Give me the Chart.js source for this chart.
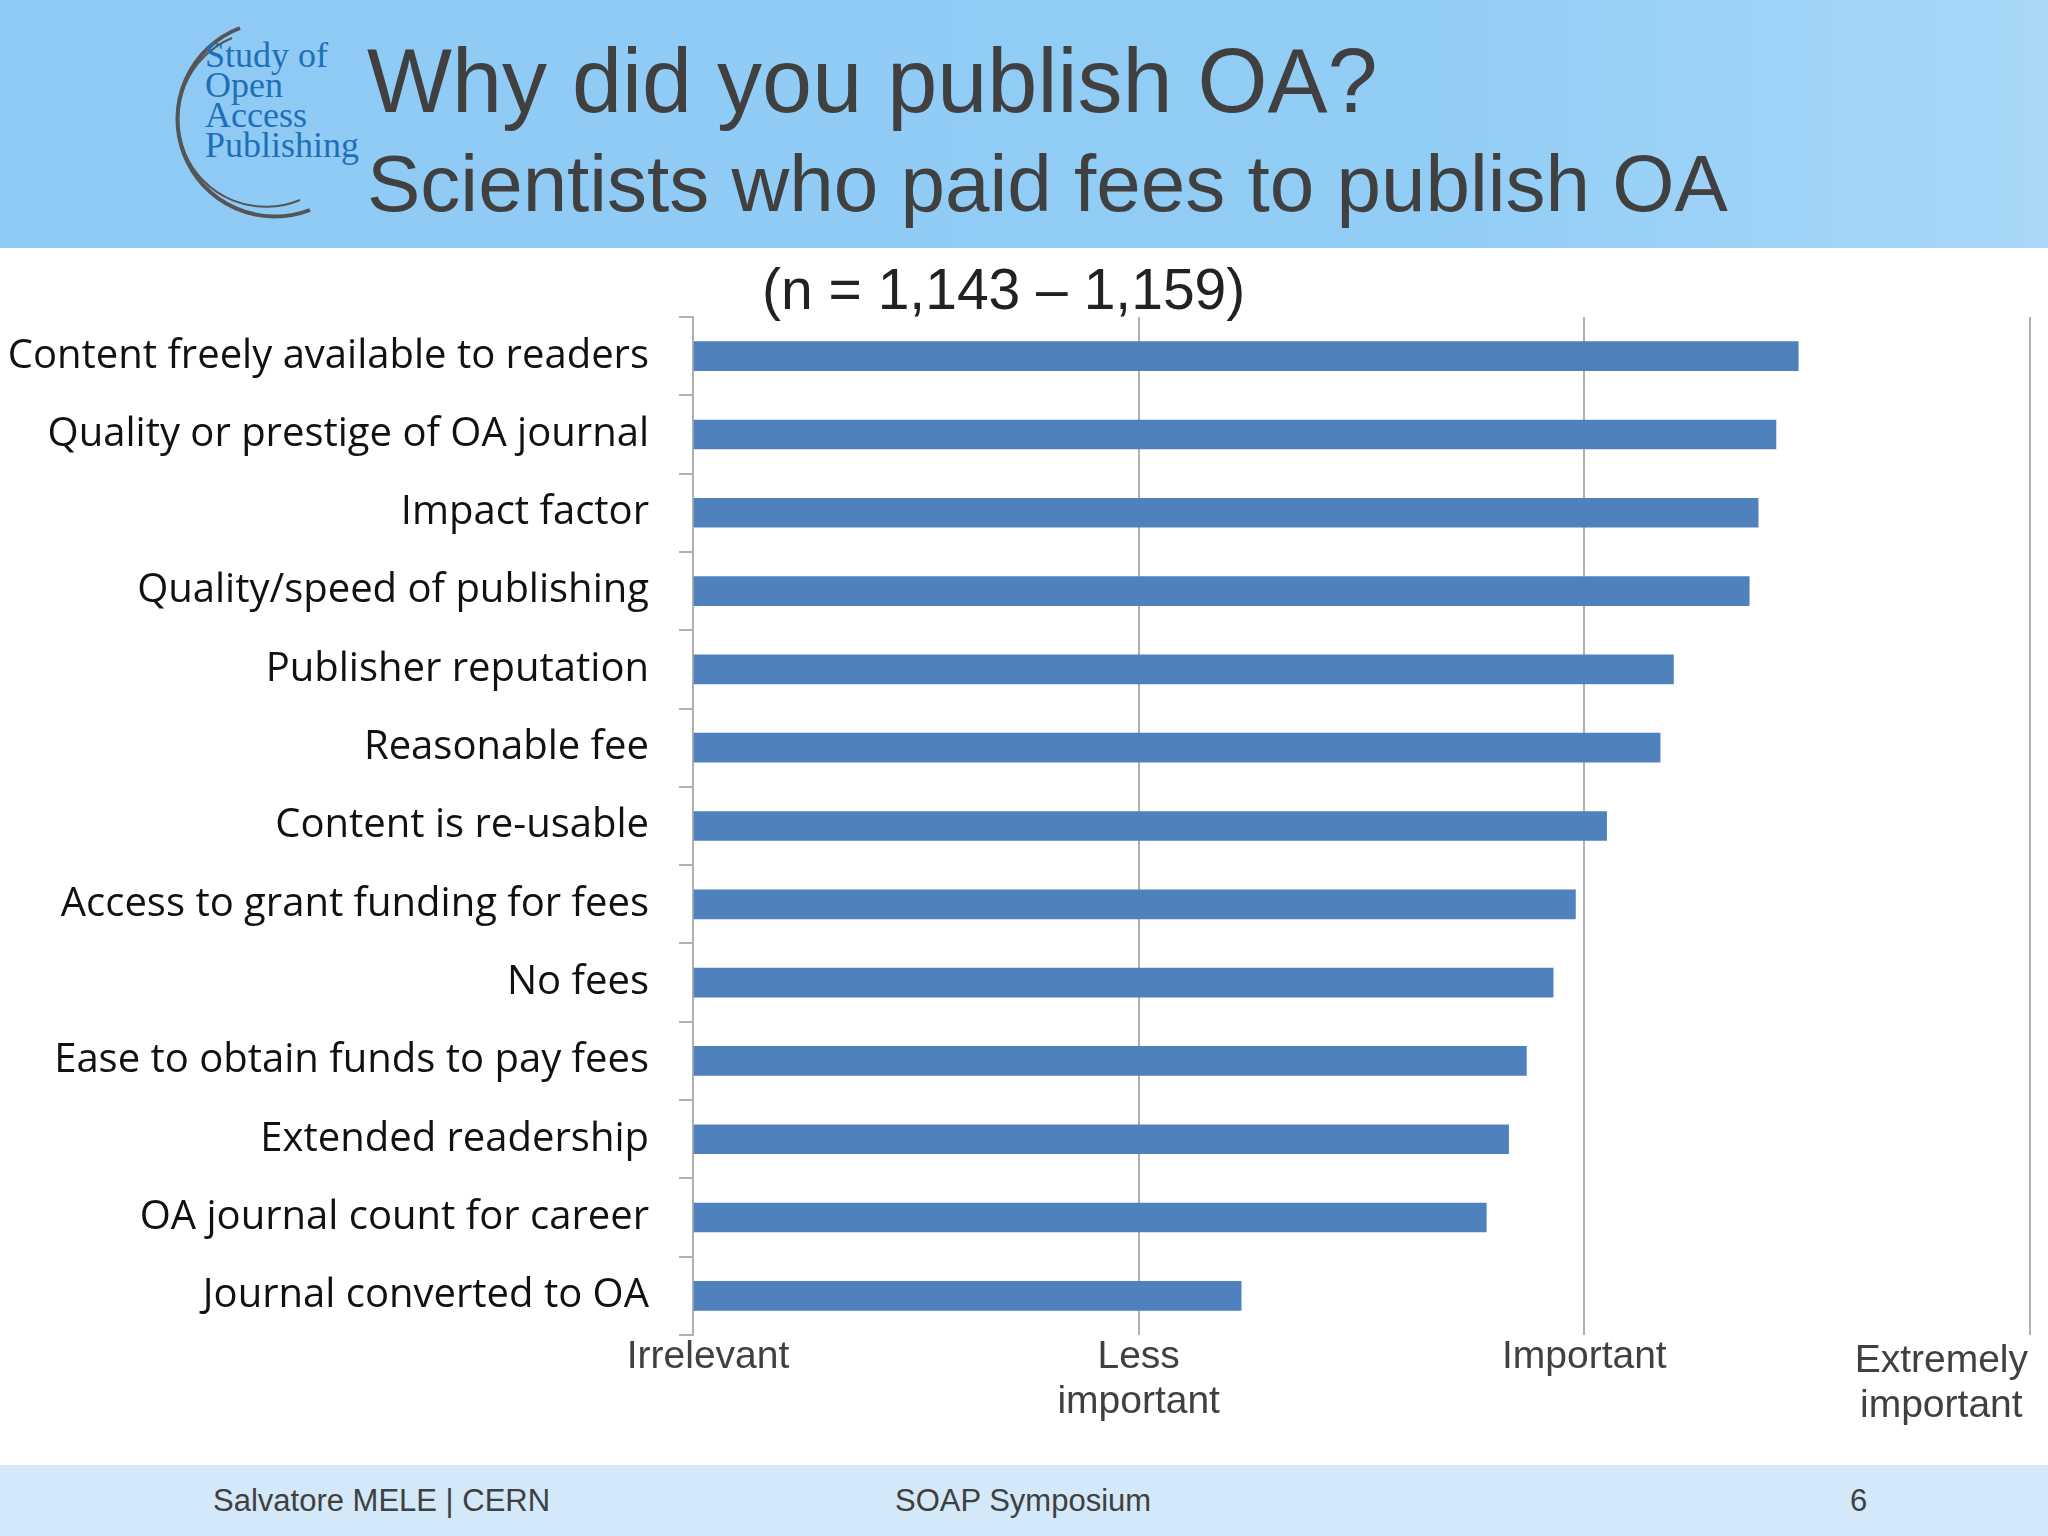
<!DOCTYPE html>
<html><head><meta charset="utf-8">
<script src="https://cdn.jsdelivr.net/npm/chart.js@4"></script>
<style>
body{margin:0;width:2048px;height:1536px;position:relative;background:#fff;overflow:hidden;font-family:"Liberation Sans",Arial,sans-serif}
#hdr{position:absolute;left:0;top:0;width:2048px;height:248px;background:linear-gradient(90deg,#8fcaf5,#92cdf6 70%,#a9d8f8)}
#ftr{position:absolute;left:0;top:1465px;width:2048px;height:71px;background:#d3e9f9}
.t{position:absolute;color:#404040;white-space:nowrap}
canvas{position:absolute;left:0;top:0}
</style></head><body>
<div id="hdr"></div>
<div id="ftr"></div>
<svg style="position:absolute;left:160px;top:20px" width="200" height="200">
<path d="M80 8 A 80 80 0 1 0 150 190" fill="none" stroke="#555" stroke-width="4"/>
<path d="M72 18 A 72 72 0 1 0 140 180" fill="none" stroke="#555" stroke-width="2"/>
</svg>
<div class="t" style="left:205px;top:40px;font-family:'Liberation Serif',serif;font-size:36px;line-height:30px;color:#1f6fb8">Study of<br>Open<br>Access<br>Publishing</div>
<div class="t" style="left:367px;top:30px;font-size:90px">Why did you publish OA?</div>
<div class="t" style="left:367px;top:138px;font-size:80px">Scientists who paid fees to publish OA</div>
<div class="t" style="left:762px;top:256px;font-size:57px;color:#222">(n = 1,143 – 1,159)</div>
<div class="t" style="left:213px;top:1483px;font-size:31px">Salvatore MELE | CERN</div>
<div class="t" style="left:895px;top:1483px;font-size:31px">SOAP Symposium</div>
<div class="t" style="left:1850px;top:1483px;font-size:31px">6</div>
<canvas id="c" width="2048" height="1536"></canvas>
<script>
const categories=["Content freely available to readers","Quality or prestige of OA journal","Impact factor","Quality/speed of publishing","Publisher reputation","Reasonable fee","Content is re-usable","Access to grant funding for fees","No fees","Ease to obtain funds to pay fees","Extended readership","OA journal count for career","Journal converted to OA"];
const values=[2.48,2.43,2.39,2.37,2.20,2.17,2.05,1.98,1.93,1.87,1.83,1.78,1.23];
const tickLabels=[["Irrelevant"],["Less","important"],["Important"],["Extremely","important"]];
const xLabels={id:'xl',afterDraw(ch){const c=ch.ctx,s=ch.scales.x;c.save();c.font='39px "Liberation Sans", Arial';c.fillStyle='#404040';c.textAlign='center';c.textBaseline='top';
tickLabels.forEach((l,i)=>{let x=s.getPixelForValue(i);const w=Math.max(...l.map(t=>c.measureText(t).width));x=Math.min(x+(i==0?15:0),2048-w/2-20);l.forEach((t,j)=>c.fillText(t,x,1338+j*45+(i==3?4:0)));});c.restore();}};
new Chart(document.getElementById('c'),{type:'bar',data:{labels:categories,datasets:[{data:values,backgroundColor:'#4f81bd',barThickness:29}]},
options:{indexAxis:'y',responsive:false,animation:false,layout:{padding:{top:317,bottom:71,right:18,left:0}},
plugins:{legend:{display:false},tooltip:{enabled:false}},
scales:{x:{min:0,max:3,ticks:{display:false,stepSize:1},afterFit(s){s.height=130},border:{display:false},grid:{color:'#b0b0b0',lineWidth:2,drawTicks:false}},
y:{afterFit(s){s.width=693},ticks:{color:'#111',font:{family:'"Open Sans"',size:40},padding:30},border:{color:'#b0b0b0',width:2},grid:{offset:true,drawOnChartArea:false,tickLength:14,color:'#b0b0b0',lineWidth:2}}}},
plugins:[xLabels]});
</script></body></html>
